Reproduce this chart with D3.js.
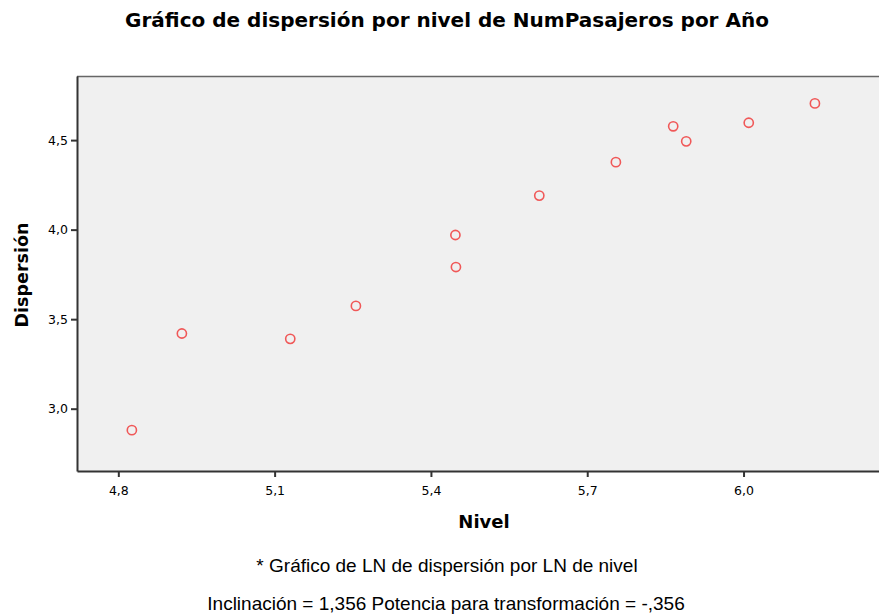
<html>
  <head>
    <title>Dispersión por nivel</title>
    <script type="text/javascript" src="https://d3js.org/d3.v7.min.js"></script>
    <style type="text/css">
      body { margin: 0; background: #fff; }
      text { fill: #000; }
    </style>
  </head>
  <body>
    <script type="text/javascript">
      // niveles (LN) y dispersión (LN) por año
      var nivel = [4.826, 4.922, 5.130, 5.256, 5.447, 5.448, 5.608, 5.755, 5.865, 5.890, 6.010, 6.137];
      var dispersion = [2.880, 3.420, 3.390, 3.574, 3.970, 3.791, 4.190, 4.377, 4.577, 4.493, 4.597, 4.705];
      var xTicks = [4.8, 5.1, 5.4, 5.7, 6.0];
      var yTicks = [3.0, 3.5, 4.0, 4.5];

      var w = 879;
      var h = 616;
      var pLeft = 77, pTop = 76, pRight = 879, pBottom = 471;

      var x = d3.scaleLinear().domain([4.7207, 6.26]).range([pLeft, pRight]);
      var y = d3.scaleLinear().domain([2.652, 4.858]).range([pBottom, pTop]);

      var fmt = function(d) { return d3.format(".1f")(d).replace(".", ","); };

      var svg = d3.select("body")
            .append("svg")
            .attr("width", w)
            .attr("height", h);

      // fondo del área
      svg.append("rect")
         .attr("x", pLeft).attr("y", pTop)
         .attr("width", pRight - pLeft).attr("height", pBottom - pTop)
         .attr("fill", "#f0f0f0");

      svg.append("line")
         .attr("x1", pLeft).attr("x2", pRight)
         .attr("y1", pTop + 0.5).attr("y2", pTop + 0.5)
         .attr("stroke", "#666").attr("stroke-width", 1.5);

      var xAxis = svg.append("g")
         .attr("transform", "translate(0," + pBottom + ")")
         .call(d3.axisBottom(x).tickValues(xTicks).tickFormat(fmt).tickSize(6).tickSizeOuter(0));

      var yAxis = svg.append("g")
         .attr("transform", "translate(" + pLeft + ",0)")
         .call(d3.axisLeft(y).tickValues(yTicks).tickFormat(fmt).tickSize(6).tickSizeOuter(0));

      [xAxis, yAxis].forEach(function(a) {
        a.select(".domain").attr("stroke", "#333").attr("stroke-width", 2);
        a.selectAll(".tick line").attr("stroke", "#333").attr("stroke-width", 2);
        a.selectAll(".tick text")
         .attr("font-family", "DejaVu Sans, sans-serif")
         .attr("font-size", 12.5)
         .attr("fill", "#222");
      });
      xAxis.selectAll(".tick text").attr("dy", "1.2em");
      yAxis.selectAll(".tick text").attr("x", -9);

      svg.selectAll("circle.pt")
         .data(nivel)
         .enter()
         .append("circle")
         .attr("class", "pt")
         .attr("cx", function(d) { return x(d); })
         .attr("cy", function(d, i) { return y(dispersion[i]); })
         .attr("r", 4.6)
         .attr("fill", "none")
         .attr("stroke", "#f05858")
         .attr("stroke-width", 1.6);

      svg.append("text")
         .attr("x", 447).attr("y", 27)
         .attr("text-anchor", "middle")
         .attr("font-family", "DejaVu Sans, sans-serif")
         .attr("font-weight", "bold")
         .attr("font-size", 20)
         .text("Gráfico de dispersión por nivel de NumPasajeros por Año");

      svg.append("text")
         .attr("x", 484).attr("y", 528)
         .attr("text-anchor", "middle")
         .attr("font-family", "DejaVu Sans, sans-serif")
         .attr("font-weight", "bold")
         .attr("font-size", 18)
         .text("Nivel");

      svg.append("text")
         .attr("transform", "translate(28,275) rotate(-90)")
         .attr("text-anchor", "middle")
         .attr("font-family", "DejaVu Sans, sans-serif")
         .attr("font-weight", "bold")
         .attr("font-size", 17.5)
         .text("Dispersión");

      svg.append("text")
         .attr("x", 447).attr("y", 572)
         .attr("text-anchor", "middle")
         .attr("font-family", "Liberation Sans, Arial, sans-serif")
         .attr("font-size", 19)
         .text("* Gráfico de LN de dispersión por LN de nivel");

      svg.append("text")
         .attr("x", 446).attr("y", 610)
         .attr("text-anchor", "middle")
         .attr("font-family", "Liberation Sans, Arial, sans-serif")
         .attr("font-size", 19)
         .text("Inclinación = 1,356 Potencia para transformación = -,356");
    </script>
  </body>
</html>
